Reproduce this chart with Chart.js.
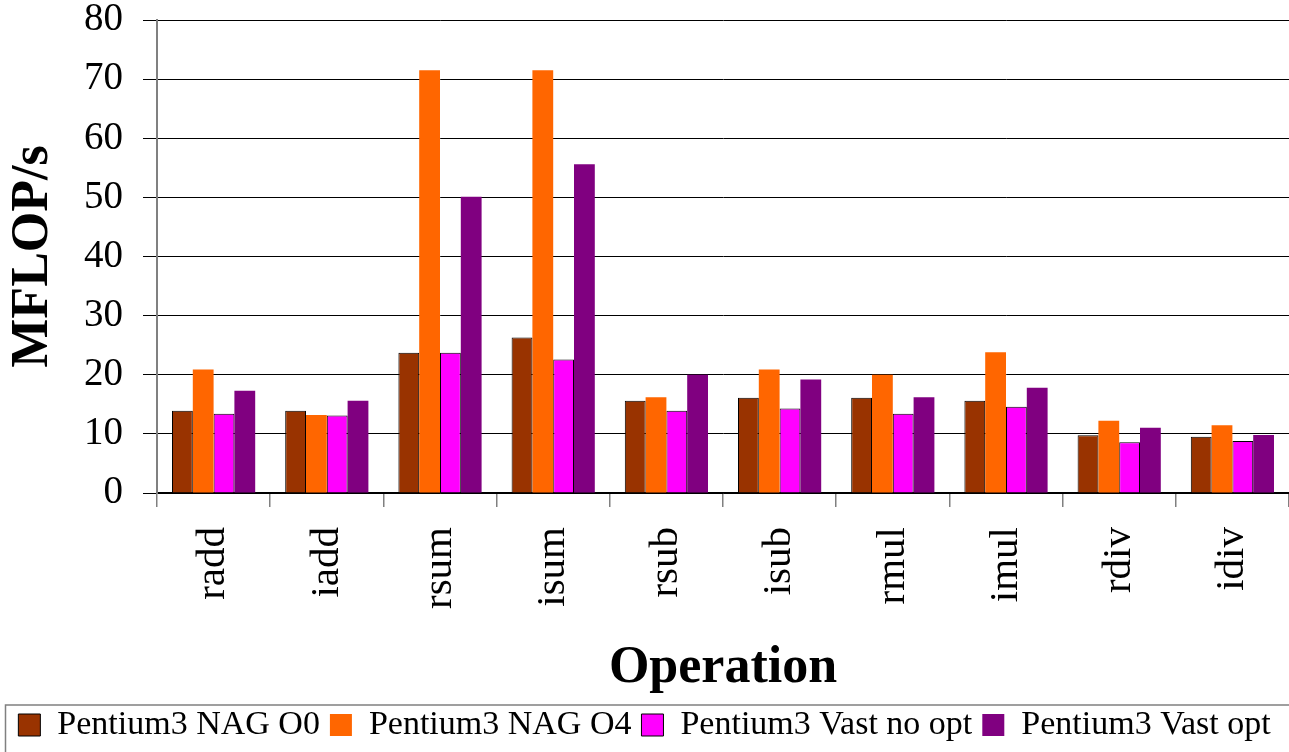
<!DOCTYPE html>
<html>
<head>
<meta charset="utf-8">
<script src="https://cdn.jsdelivr.net/npm/chart.js@4/dist/chart.umd.min.js"></script>
<style>
  html, body { margin: 0; padding: 0; background: #fff; }
  #wrap { width: 1289px; height: 752px; position: relative; overflow: hidden; }
</style>
</head>
<body>
<div id="wrap"><canvas id="chart"></canvas></div>
<script>
{
    // data
    const OPERATIONS = ['radd', 'iadd', 'rsum', 'isum', 'rsub', 'isub', 'rmul', 'imul', 'rdiv', 'idiv'];
    const NAG_O0     = [13.9, 13.9, 23.7, 26.3, 15.6, 16.1, 16.1, 15.6, 9.75, 9.5];
    const NAG_O4     = [20.9, 13.2, 71.5, 71.5, 16.2, 20.9, 20.0, 23.8, 12.2, 11.45];
    const VAST_NOOPT = [13.4, 13.1, 23.7, 22.6, 13.9, 14.3, 13.4, 14.6, 8.6, 8.8];
    const VAST_OPT   = [17.3, 15.6, 50.1, 55.6, 20.0, 19.2, 16.2, 17.8, 11.05, 9.8];
    const Y_TICKS    = [0, 10, 20, 30, 40, 50, 60, 70, 80];

    const SERIF = "'Liberation Serif', 'Times New Roman', serif";

    /* frame round the legend, like the original */
    const legendFrame = {
        id: 'legendFrame',
        afterDraw(chart) {
            const lg = chart.legend;
            const ctx = chart.ctx;
            ctx.save();
            ctx.strokeStyle = '#808080';
            ctx.lineWidth = 1.5;
            ctx.strokeRect(5.5, lg.top + 7, chart.width + 20, lg.height + 20);
            ctx.restore();
        }
    };

    const bar = (label, data, color, border) => ({
        label,
        data,
        backgroundColor: color,
        borderColor: '#000',
        borderWidth: border,
        barPercentage: 1,
        categoryPercentage: 0.735
    });

    document.addEventListener("DOMContentLoaded", () => {
        new Chart(document.getElementById('chart'), {
            type: 'bar',
            data: {
                labels: OPERATIONS,
                datasets: [
                    bar('Pentium3 NAG O0', NAG_O0, '#993300', 1),
                    bar('Pentium3 NAG O4', NAG_O4, '#FF6600', 0),
                    bar('Pentium3 Vast no opt', VAST_NOOPT, '#FF00FF', 1),
                    bar('Pentium3 Vast opt', VAST_OPT, '#800080', 0)
                ]
            },
            plugins: [legendFrame],
            options: {
                responsive: true,
                maintainAspectRatio: false,
                animation: false,
                layout: { padding: 0 },
                plugins: {
                    tooltip: { enabled: false },
                    legend: {
                        position: 'bottom',
                        labels: {
                            color: '#000',
                            font: { family: SERIF, size: 34 },
                            boxWidth: 22,
                            boxHeight: 22,
                            padding: 10
                        }
                    }
                },
                scales: {
                    x: {
                        afterFit: s => {
                            s.height = 205;
                            s.paddingLeft = 0;
                            s.paddingRight = 0;
                        },
                        grid: {
                            offset: true,
                            drawOnChartArea: false,
                            drawTicks: true,
                            tickLength: 14,
                            color: '#808080',
                            lineWidth: 1.5
                        },
                        border: { color: '#000', width: 1.5 },
                        ticks: {
                            color: '#000',
                            font: { family: SERIF, size: 41 },
                            minRotation: 90,
                            maxRotation: 90,
                            padding: 20
                        },
                        title: {
                            display: true,
                            text: 'Operation',
                            color: '#000',
                            font: { family: SERIF, size: 52, weight: 'bold', lineHeight: 1 },
                            padding: { top: 0, bottom: 3 }
                        }
                    },
                    y: {
                        min: 0,
                        max: 80,
                        afterFit: s => {
                            s.width = 157;
                            s.paddingTop = 20;
                            s.paddingBottom = 0;
                        },
                        afterBuildTicks: s => { s.ticks = Y_TICKS.map(v => ({ value: v })); },
                        grid: {
                            color: '#000',
                            lineWidth: 1,
                            tickLength: 14
                        },
                        border: { color: '#808080', width: 2 },
                        ticks: {
                            color: '#000',
                            font: { family: SERIF, size: 39 },
                            padding: 20
                        },
                        title: {
                            display: true,
                            text: 'MFLOP/s',
                            color: '#000',
                            font: { family: SERIF, size: 52, weight: 'bold', lineHeight: 1 },
                            padding: { top: 8, bottom: 0 }
                        }
                    }
                }
            }
        });
    });
}
</script>
</body>
</html>
